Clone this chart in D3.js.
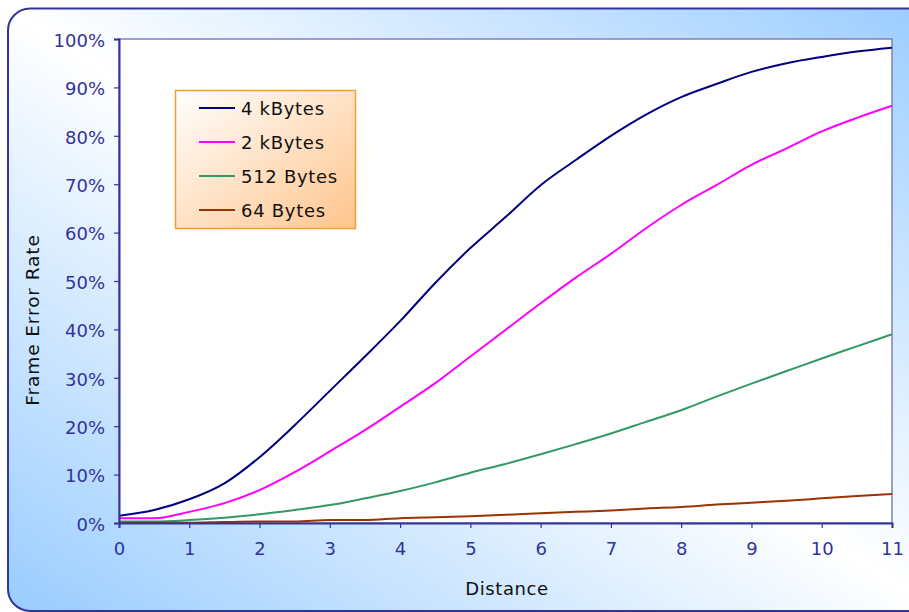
<!DOCTYPE html>
<html>
<head>
<meta charset="utf-8">
<script src="https://cdn.jsdelivr.net/npm/d3@7"></script>
<style>
  html, body { margin: 0; padding: 0; background: #ffffff; }
  svg { display: block; }
  text { font-family: "DejaVu Sans", Verdana, sans-serif; }
</style>
</head>
<body>
<svg id="chart" width="909" height="612"></svg>
<script>
// ---- data ----
const distances = [0,0.5,1,1.5,2,2.5,3,3.5,4,4.5,5,5.5,6,6.5,7,7.5,8,8.5,9,9.5,10,10.5,11];
const fer4k   = [1.5,2.7,4.9,8.2,13.6,20.2,27.3,34.4,41.7,49.6,56.8,63.2,69.8,75.0,80.0,84.4,88.0,90.7,93.2,95.0,96.3,97.4,98.2];
const fer2k   = [1.0,1.0,2.3,4.1,6.8,10.5,14.8,19.2,24.0,28.9,34.4,39.9,45.4,50.7,55.6,60.9,65.7,69.8,74.0,77.4,80.9,83.7,86.2];
const fer512  = [0.3,0.3,0.6,1.1,1.8,2.7,3.7,5.1,6.6,8.4,10.4,12.2,14.2,16.3,18.5,20.9,23.3,26.1,28.8,31.4,34.0,36.5,39.0];
const fer64   = [0.05,0.05,0.05,0.2,0.3,0.3,0.6,0.6,1.0,1.2,1.4,1.7,2.0,2.3,2.6,3.0,3.3,3.8,4.2,4.6,5.1,5.6,6.0];
const seriesNames  = ["4 kBytes","2 kBytes","512 Bytes","64 Bytes"];
const seriesColors = ["#000080","#FF00FF","#339966","#993300"];
const xTicks = [0,1,2,3,4,5,6,7,8,9,10,11];
const yTicks = [0,10,20,30,40,50,60,70,80,90,100];

const seriesValues = [fer4k, fer2k, fer512, fer64];
const series = seriesNames.map((name, i) => ({
  name, color: seriesColors[i],
  points: distances.map((d, j) => ({ x: d, y: seriesValues[i][j] }))
}));

// ---- layout ----
const svg = d3.select("#chart");
const W = 909, H = 612;
const plot = { left: 119, top: 39, right: 892, bottom: 523 };

const defs = svg.append("defs");
const bg = defs.append("linearGradient").attr("id", "bgGrad")
  .attr("x1", 0).attr("y1", 1).attr("x2", 1).attr("y2", 0);
bg.append("stop").attr("offset", "0%").attr("stop-color", "#99CCFF");
bg.append("stop").attr("offset", "50%").attr("stop-color", "#FFFFFF");
bg.append("stop").attr("offset", "100%").attr("stop-color", "#99CCFF");

const lg = defs.append("linearGradient").attr("id", "legGrad")
  .attr("x1", 0).attr("y1", 0).attr("x2", 1).attr("y2", 1);
lg.append("stop").attr("offset", "0%").attr("stop-color", "#FFFFFF");
lg.append("stop").attr("offset", "100%").attr("stop-color", "#FFC48C");

// outer frame
svg.append("rect").attr("x", 0).attr("y", 0).attr("width", W).attr("height", H).attr("fill", "#ffffff");
svg.append("rect")
  .attr("x", 8).attr("y", 8.5).attr("width", 930).attr("height", 602.5)
  .attr("rx", 22).attr("ry", 22)
  .attr("fill", "url(#bgGrad)")
  .attr("stroke", "#333399").attr("stroke-width", 2);

// scales
const x = d3.scaleLinear().domain([0, 11]).range([plot.left, plot.right]);
const y = d3.scaleLinear().domain([0, 100]).range([plot.bottom, plot.top]);

// plot area
svg.append("rect")
  .attr("x", plot.left).attr("y", plot.top)
  .attr("width", plot.right - plot.left).attr("height", plot.bottom - plot.top)
  .attr("fill", "#ffffff").attr("stroke", "#8080C0").attr("stroke-width", 1.5);

// series
const line = d3.line().x(d => x(d.x)).y(d => y(d.y)).curve(d3.curveMonotoneX);
svg.append("g").selectAll("path").data(series).join("path")
  .attr("d", d => line(d.points))
  .attr("fill", "none")
  .attr("stroke", d => d.color)
  .attr("stroke-width", 2)
  .attr("stroke-linejoin", "round");

// axes
const axisColor = "#333399";
const yAxis = svg.append("g").attr("transform", `translate(${plot.left},0)`)
  .call(d3.axisLeft(y).tickValues(yTicks).tickSize(5).tickPadding(9).tickFormat(d => d + "%"));
const xAxis = svg.append("g").attr("transform", `translate(0,${plot.bottom})`)
  .call(d3.axisBottom(x).tickValues(xTicks).tickSize(5).tickPadding(10).tickFormat(d3.format("d")));
[yAxis, xAxis].forEach(g => {
  g.select(".domain").attr("stroke", axisColor).attr("stroke-width", 2);
  g.selectAll(".tick line").attr("stroke", axisColor).attr("stroke-width", 1.2);
  g.selectAll(".tick text").attr("fill", axisColor)
    .style("font-family", '"DejaVu Sans", Verdana, sans-serif')
    .style("font-size", "18px");
});
yAxis.selectAll(".tick text").attr("dy", "0.4em");
xAxis.selectAll(".tick text").attr("dy", "0.95em");

// axis titles
svg.append("text")
  .attr("transform", "translate(39,320) rotate(-90)")
  .attr("text-anchor", "middle")
  .attr("fill", "#111111")
  .style("font-size", "18.5px").style("letter-spacing", "0.9px")
  .text("Frame Error Rate");
svg.append("text")
  .attr("x", 507).attr("y", 595)
  .attr("text-anchor", "middle")
  .attr("fill", "#111111")
  .style("font-size", "18px").style("letter-spacing", "0.6px")
  .text("Distance");

// legend
const legend = svg.append("g");
legend.append("rect")
  .attr("x", 175.5).attr("y", 90.5).attr("width", 180).attr("height", 138)
  .attr("fill", "url(#legGrad)").attr("stroke", "#F0A030").attr("stroke-width", 1.5);
const rowY = d3.scaleLinear().domain([0, 3]).range([108, 210]);
const rows = legend.selectAll("g.row").data(series).join("g").attr("class", "row")
  .attr("transform", (d, i) => `translate(0,${rowY(i)})`);
rows.append("line").attr("x1", 199).attr("x2", 235).attr("y1", 0).attr("y2", 0)
  .attr("stroke", d => d.color).attr("stroke-width", 2);
rows.append("text").attr("x", 241).attr("y", 6.5)
  .attr("fill", "#111111")
  .style("font-size", "18px").style("letter-spacing", "0.7px")
  .text(d => d.name);
</script>
</body>
</html>
